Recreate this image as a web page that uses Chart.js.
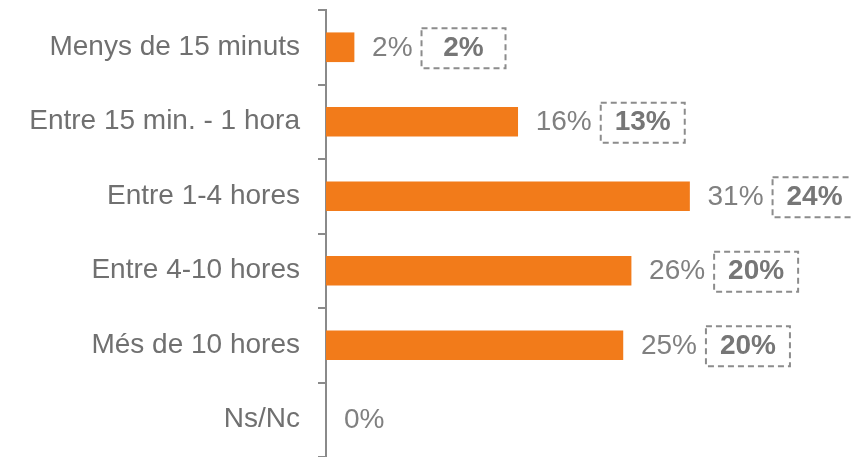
<!DOCTYPE html>
<html>
<head>
<meta charset="utf-8">
<script src="https://cdn.jsdelivr.net/npm/chart.js@4/dist/chart.umd.min.js"></script>
<style>
  body { margin: 0; background: #fff; }
  #wrap { width: 852px; height: 457px; }
</style>
</head>
<body>
<div id="wrap"><canvas id="grafic" width="852" height="457"></canvas></div>
<script>
// Categories (top to bottom)
const categories = ['Menys de 15 minuts', 'Entre 15 min. - 1 hora', 'Entre 1-4 hores', 'Entre 4-10 hores', 'Més de 10 hores', 'Ns/Nc'];
// Current values (%)
const valors = [2.4, 16.4, 31.1, 26.1, 25.4, 0];
// Comparison values shown in dashed boxes (%)
const valorsAnteriors = [2, 13, 24, 20, 20, null];

// Draws value label after each bar plus the dashed box with the comparison value
const etiquetes = {
  id: 'etiquetes',
  afterDatasetsDraw(chart) {
    const ctx = chart.ctx;
    const meta = chart.getDatasetMeta(0);
    ctx.save();
    meta.data.forEach((bar, i) => {
      const y = bar.y;
      const x = bar.x + 18;
      ctx.font = '28px "Liberation Sans", Arial, sans-serif';
      ctx.fillStyle = '#808080';
      ctx.textAlign = 'left';
      ctx.textBaseline = 'middle';
      const txt = Math.round(valors[i]) + '%';
      ctx.fillText(txt, x, y + 1);
      if (valorsAnteriors[i] === null) return;
      const bx = x + ctx.measureText(txt).width + 9;
      const bw = 84, bh = 40;
      ctx.setLineDash([6, 4]);
      ctx.lineWidth = 2;
      ctx.strokeStyle = '#8c8c8c';
      ctx.strokeRect(bx, y - bh / 2 + 1, bw, bh);
      ctx.setLineDash([]);
      ctx.font = 'bold 28px "Liberation Sans", Arial, sans-serif';
      ctx.fillStyle = '#767676';
      ctx.textAlign = 'center';
      ctx.fillText(valorsAnteriors[i] + '%', bx + bw / 2, y + 1);
    });
    ctx.restore();
  }
};

new Chart(document.getElementById('grafic'), {
  type: 'bar',
  data: {
    labels: categories,
    datasets: [{
      data: valors,
      backgroundColor: valors.map(v => v > 0 ? '#F27B1A' : 'rgba(0,0,0,0)'),
      barThickness: 29
    }]
  },
  options: {
    indexAxis: 'y',
    responsive: false,
    animation: false,
    layout: { padding: { top: 10, bottom: 0, left: 0, right: 0 } },
    plugins: {
      legend: { display: false },
      tooltip: { enabled: false }
    },
    scales: {
      x: {
        display: false,
        min: 0,
        max: 45
      },
      y: {
        afterFit(scale) {
          scale.width = 326;
          scale.paddingTop = 0;
          scale.paddingBottom = 0;
        },
        grid: {
          drawOnChartArea: false,
          drawTicks: true,
          tickLength: 8,
          color: '#8a8a8a',
          lineWidth: 2
        },
        border: { color: '#8a8a8a', width: 2 },
        ticks: {
          padding: 18,
          color: '#707070',
          font: { family: '"Liberation Sans", Arial, sans-serif', size: 28 }
        }
      }
    }
  },
  plugins: [etiquetes]
});
</script>
</body>
</html>
